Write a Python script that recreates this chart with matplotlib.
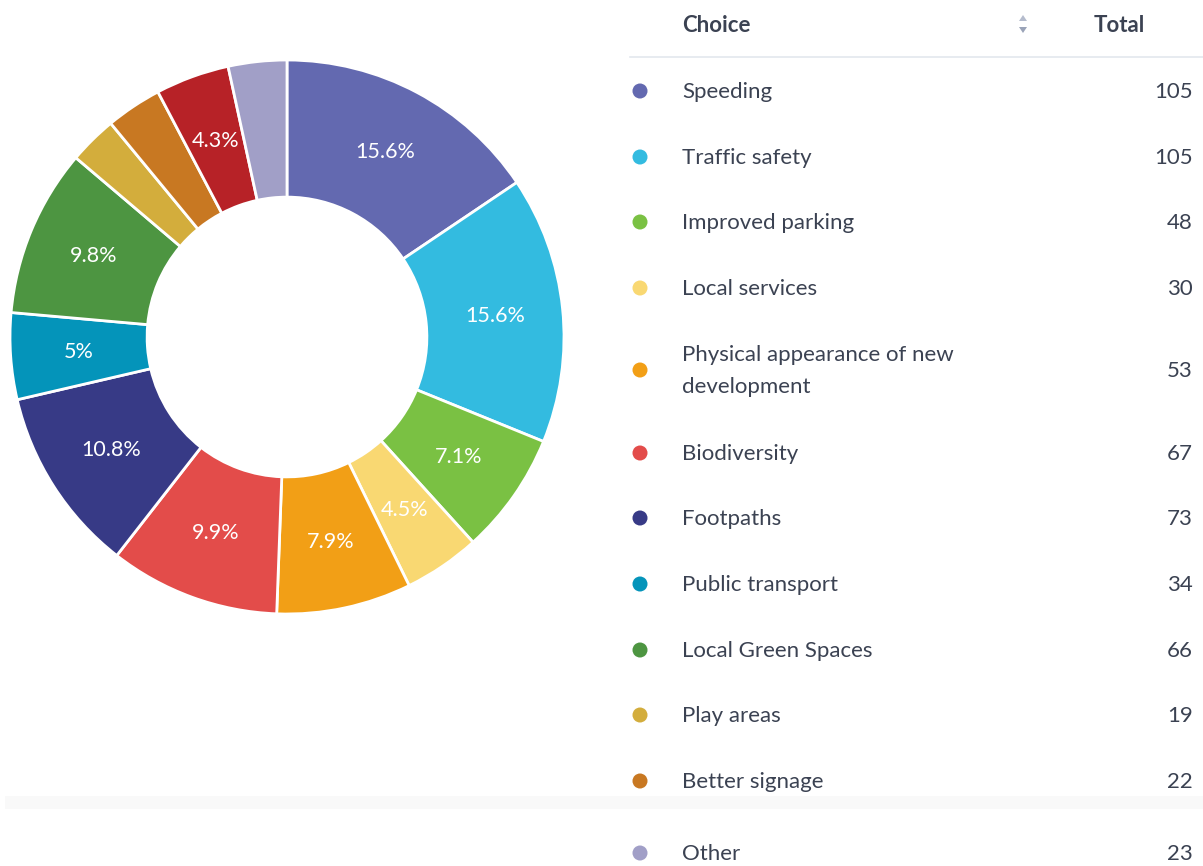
import numpy as np
import matplotlib
matplotlib.use("Agg")
import matplotlib.pyplot as plt
from matplotlib.patches import Circle, Rectangle, Polygon

plt.rcParams['font.family'] = ['Lato', 'DejaVu Sans']

# slice data (clockwise from 12 o'clock)
values = [105, 105, 48, 30, 53, 67, 73, 34, 66, 19, 22, 29, 23]
colors = ['#6369B0', '#33BBE0', '#7AC143', '#F9D872', '#F29F16', '#E34C4A',
          '#373A86', '#0494BA', '#4D9541', '#D3AD3C', '#C87822', '#B72227',
          '#A19FC7']

# rows visible in the table
row_labels = ['Speeding', 'Traffic safety', 'Improved parking', 'Local services',
              'Physical appearance of new\ndevelopment', 'Biodiversity', 'Footpaths',
              'Public transport', 'Local Green Spaces', 'Play areas', 'Better signage',
              'Other']
row_totals = [105, 105, 48, 30, 53, 67, 73, 34, 66, 19, 22, 23]
row_colors = colors[:11] + [colors[12]]
row_y = [91, 157, 222, 288, 370, 453, 518, 584, 650, 715, 781, 853]

W, H = 1203, 866
fig = plt.figure(figsize=(W / 100, H / 100), dpi=100)

# background / table axes in pixel coords
bg = fig.add_axes([0, 0, 1, 1])
bg.set_xlim(0, W)
bg.set_ylim(H, 0)
bg.axis('off')

txt = '#3b4252'
bg.add_patch(Rectangle((5, 796), W - 5, 13, color='#f9f9f9', lw=0, zorder=0))
bg.text(682, 25, 'Choice', fontsize=16, fontweight='bold', color=txt, va='center')
bg.text(1145, 25, 'Total', fontsize=16, fontweight='bold', color=txt, va='center', ha='right')
bg.add_patch(Polygon([[1019, 21], [1027, 21], [1023, 15]], color='#b5bccd', lw=0))
bg.add_patch(Polygon([[1019, 27], [1027, 27], [1023, 33]], color='#9aa3b8', lw=0))
bg.plot([630, W], [57, 57], color='#e3e7ee', lw=1.2)

for lab, tot, c, y in zip(row_labels, row_totals, row_colors, row_y):
    bg.add_patch(Circle((640, y), 7.5, color=c, lw=0))
    bg.text(682, y + 1, lab, fontsize=16, color=txt, va='center', linespacing=1.75)
    bg.text(1193, y + 1, str(tot), fontsize=16, color=txt, va='center', ha='right')

# donut
cx, cy, r = 287, 337, 277
ax = fig.add_axes([(cx - r) / W, (H - cy - r) / H, 2 * r / W, 2 * r / H])
total = sum(values)
pcts = [v / total * 100 for v in values]
wedges, _ = ax.pie(values, colors=colors, startangle=90, counterclock=False,
                   radius=1, wedgeprops=dict(width=0.495, edgecolor='white', linewidth=2))
for w, p in zip(wedges, pcts):
    if p < 4:
        continue
    ang = np.deg2rad((w.theta1 + w.theta2) / 2)
    s = f'{p:.1f}'.rstrip('0').rstrip('.') + '%'
    ax.text(0.755 * np.cos(ang), 0.755 * np.sin(ang), s, ha='center', va='center',
            fontsize=15.5, color='white')
ax.set_xlim(-1, 1)
ax.set_ylim(-1, 1)
ax.axis('off')

fig.savefig('out.png', dpi=100)
